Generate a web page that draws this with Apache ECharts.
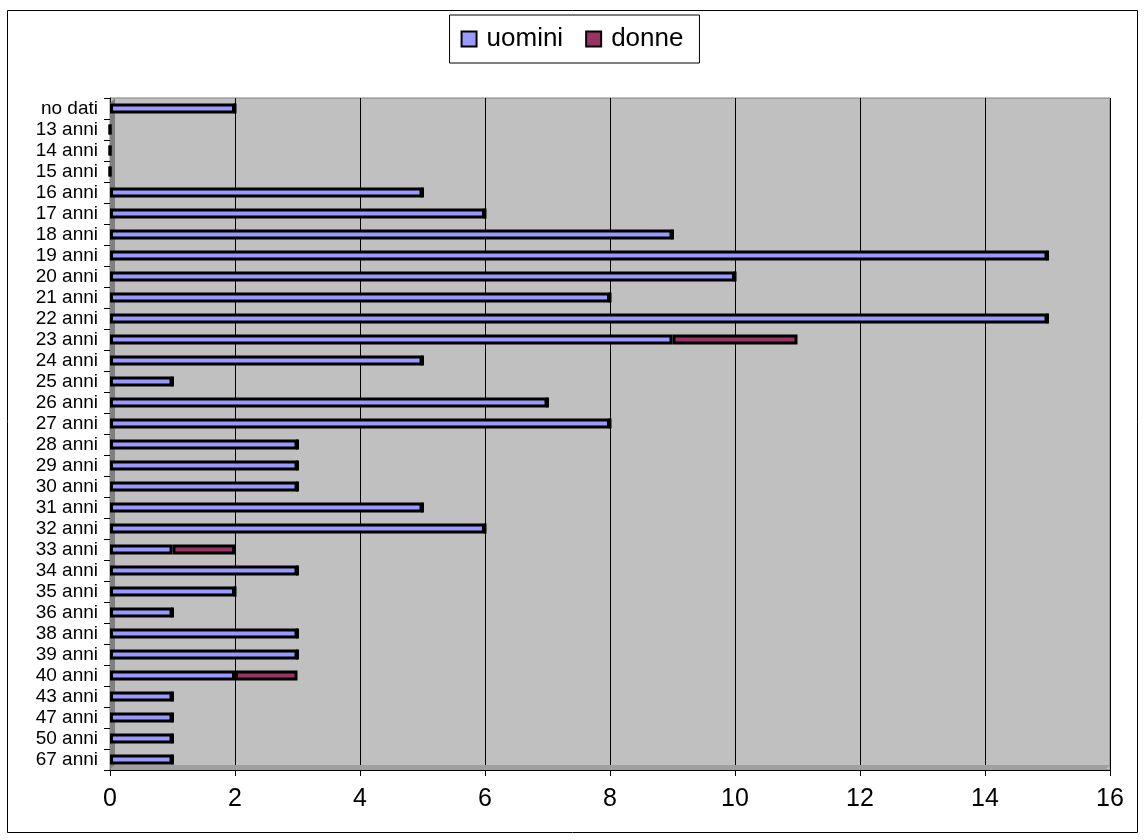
<!DOCTYPE html>
<html>
<head>
<meta charset="utf-8">
<script src="https://cdn.jsdelivr.net/npm/echarts@6/dist/echarts.min.js"></script>
<style>
  html, body { margin: 0; padding: 0; background: #fff; }
  #chart-container { width: 1144px; height: 840px; }
</style>
</head>
<body>
<div id="chart-container"></div>
<script>
var categories = ['no dati', '13 anni', '14 anni', '15 anni', '16 anni', '17 anni', '18 anni',
    '19 anni', '20 anni', '21 anni', '22 anni', '23 anni', '24 anni', '25 anni', '26 anni',
    '27 anni', '28 anni', '29 anni', '30 anni', '31 anni', '32 anni', '33 anni', '34 anni',
    '35 anni', '36 anni', '38 anni', '39 anni', '40 anni', '43 anni', '47 anni', '50 anni', '67 anni'];
var uomini = [2, 0, 0, 0, 5, 6, 9, 15, 10, 8, 15, 9, 5, 1, 7, 8, 3, 3, 3, 5, 6, 1, 3, 2, 1, 3, 3, 2, 1, 1, 1, 1];
var donne = [0, 0, 0, 0, 0, 0, 0, 0, 0, 0, 0, 2, 0, 0, 0, 0, 0, 0, 0, 0, 0, 1, 0, 0, 0, 0, 0, 1, 0, 0, 0, 0];
var xTicks = { min: 0, max: 16, interval: 2 };

var dom = document.getElementById('chart-container');
var myChart = echarts.init(dom, null, { renderer: 'canvas' });

var option = {
    animation: false,
    textStyle: { fontFamily: 'Liberation Sans, Arial, sans-serif' },
    graphic: [{
        type: 'rect',
        shape: { x: 7.5, y: 10.5, width: 1130, height: 822 },
        style: { fill: 'none', stroke: '#000', lineWidth: 1 },
        z: -10
    }, {
        // side wall of the 3D plot area
        type: 'polygon',
        shape: { points: [[110, 103], [115, 98], [115, 765], [110, 770]] },
        style: { fill: '#808080' },
        z: 1
    }, {
        // floor of the 3D plot area
        type: 'polygon',
        shape: { points: [[110, 770], [115, 765], [1110, 765], [1105, 770]] },
        style: { fill: '#A0A0A0' },
        z: 1
    }],
    legend: {
        top: 15,
        left: 'center',
        itemWidth: 15,
        itemHeight: 15,
        itemGap: 22,
        padding: [11, 16, 11, 11],
        borderColor: '#000',
        borderWidth: 1,
        icon: 'rect',
        textStyle: { fontSize: 26, color: '#000', padding: [0, 0, 0, 5], fontFamily: 'Liberation Sans, Arial, sans-serif' },
        data: ['uomini', 'donne']
    },
    grid: {
        left: 110,
        right: 34,
        top: 98,
        bottom: 70,
        show: true,
        backgroundColor: '#C0C0C0',
        borderColor: '#808080',
        borderWidth: 1
    },
    xAxis: {
        type: 'value',
        min: xTicks.min,
        max: xTicks.max,
        interval: xTicks.interval,
        axisLine: { show: true, lineStyle: { color: '#000', width: 1 } },
        axisTick: { show: true, length: 6, lineStyle: { color: '#000' } },
        axisLabel: { fontSize: 25, color: '#000', margin: 17 },
        splitLine: { show: true, lineStyle: { color: '#000', width: 1 } }
    },
    yAxis: {
        type: 'category',
        inverse: true,
        data: categories,
        axisLine: { show: true, lineStyle: { color: '#000', width: 1 } },
        axisTick: { show: true, length: 6, lineStyle: { color: '#000' } },
        axisLabel: { fontSize: 19, color: '#000', margin: 12, interval: 0 },
        splitLine: { show: false }
    },
    series: [{
        name: 'uomini',
        type: 'bar',
        stack: 'tot',
        data: uomini,
        barWidth: 10,
        z: 3,
        itemStyle: { color: '#9999FF', borderColor: '#000', borderWidth: 3 }
    }, {
        name: 'donne',
        type: 'bar',
        stack: 'tot',
        data: donne,
        barWidth: 10,
        z: 3,
        itemStyle: { color: '#993366', borderColor: '#000', borderWidth: 3 }
    }]
};

myChart.setOption(option);
window.addEventListener('resize', myChart.resize);
</script>
</body>
</html>
